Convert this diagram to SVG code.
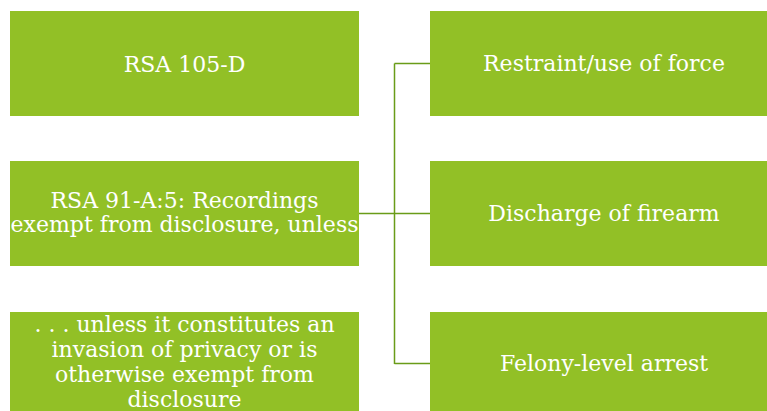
<svg xmlns="http://www.w3.org/2000/svg" width="767" height="411" viewBox="0 0 767 411">
<style>
.box{fill:#92C026;}
.t{font-family:"DejaVu Serif","Liberation Serif",serif;font-size:22px;fill:#FFFFFF;text-anchor:middle;}
.c{fill:none;stroke:#6A9C18;stroke-width:1.5;}
</style>
<rect width="767" height="411" fill="#FFFFFF"/>
<g id="connectors">
<path class="c" d="M359 213.5 H395 M394.5 63.5 V364 M394.5 63.5 H430 M395 213.5 H430 M394.5 363.5 H430"/>
</g>
<g id="n1"><rect class="box" x="10" y="11" width="349" height="105"/><text class="t" x="184.5" y="72">RSA 105-D</text></g>
<g id="n2"><rect class="box" x="10" y="161" width="349" height="105"/><text class="t" x="184.5" y="208">RSA 91-A:5: Recordings</text><text class="t" x="184.5" y="232">exempt from disclosure, unless</text></g>
<g id="n3"><rect class="box" x="10" y="312" width="349" height="105"/><text class="t" x="184.5" y="332">. . . unless it constitutes an</text><text class="t" x="184.5" y="357">invasion of privacy or is</text><text class="t" x="184.5" y="382">otherwise exempt from</text><text class="t" x="184.5" y="407">disclosure</text></g>
<g id="n4"><rect class="box" x="430" y="11" width="349" height="105"/><text class="t" x="604" y="71">Restraint/use of force</text></g>
<g id="n5"><rect class="box" x="430" y="161" width="349" height="105"/><text class="t" x="604" y="221">Discharge of firearm</text></g>
<g id="n6"><rect class="box" x="430" y="312" width="349" height="105"/><text class="t" x="604" y="371">Felony-level arrest</text></g>
</svg>
